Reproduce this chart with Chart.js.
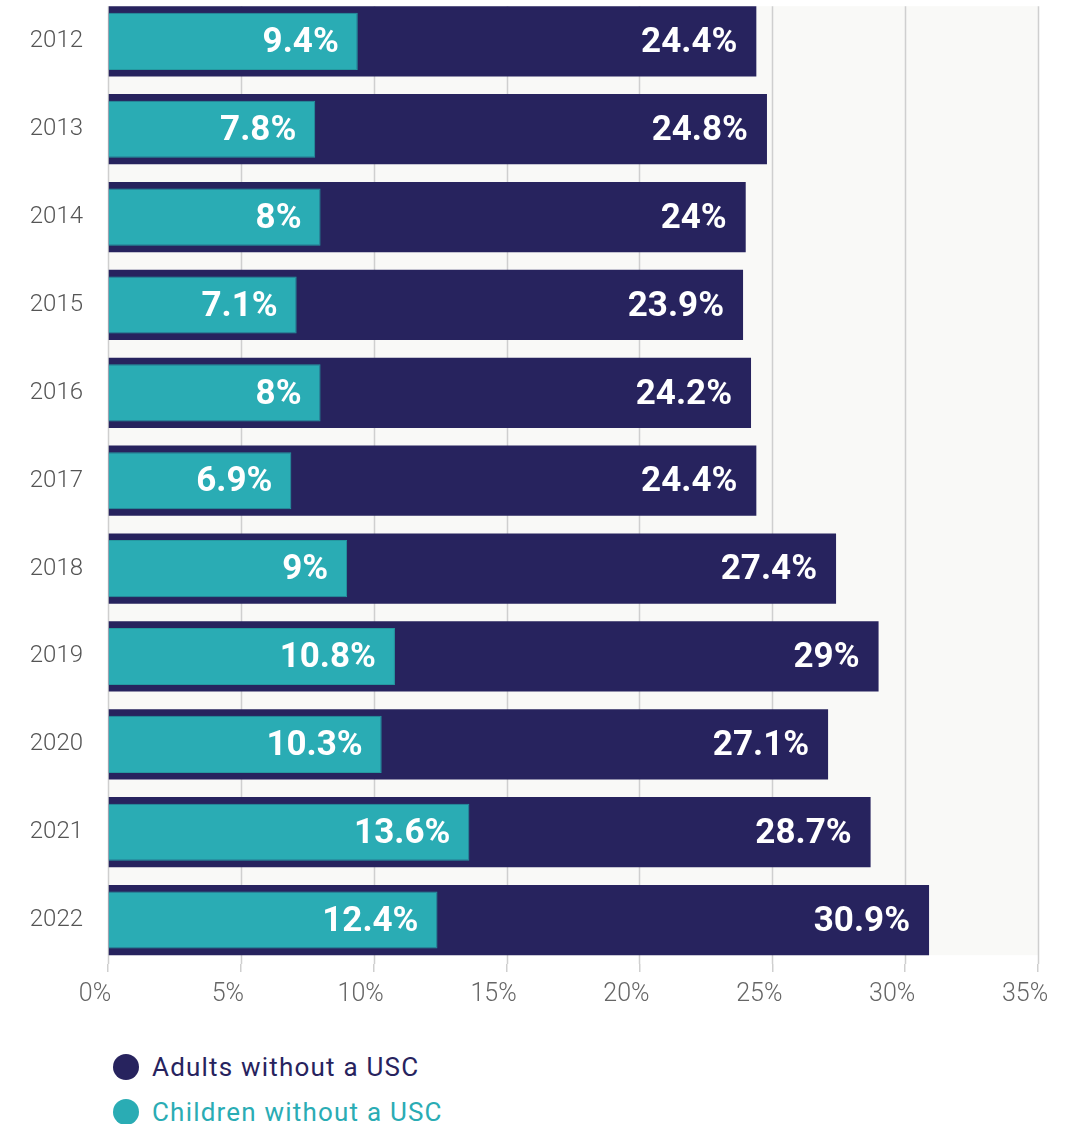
<!DOCTYPE html>
<html>
<head>
<meta charset="utf-8">
<script src="https://cdn.jsdelivr.net/npm/chart.js@4"></script>
<style>
  body { margin: 0; background: #fff; width: 1074px; height: 1124px; overflow: hidden; position: relative; }
  #chart { position: absolute; left: 0; top: -34px; }
  .legend { position: absolute; left: 113px; top: 1044px; font-family: Roboto, sans-serif; font-size: 26px; letter-spacing: 1.2px; }
  .legend .row { display: flex; align-items: center; height: 45px; }
  .legend .dot { width: 26px; height: 26px; border-radius: 50%; margin-right: 13px; }
</style>
</head>
<body>
<canvas id="chart" width="1074" height="1054"></canvas>
<div class="legend" id="legend"></div>
<script>
const years = ['2012', '2013', '2014', '2015', '2016', '2017', '2018', '2019', '2020', '2021', '2022'];
const adults = [24.4, 24.8, 24, 23.9, 24.2, 24.4, 27.4, 29, 27.1, 28.7, 30.9];
const children = [9.4, 7.8, 8, 7.1, 8, 6.9, 9, 10.8, 10.3, 13.6, 12.4];
const xTicks = [0, 5, 10, 15, 20, 25, 30, 35];

const NAVY = '#27235e';
const TEAL = '#2aacb4';

// light panel + vertical gridlines, spanning only the bar block
const panel = {
    id: 'panel',
    beforeDatasetsDraw(chart) {
        const ctx = chart.ctx;
        const bars = chart.getDatasetMeta(1).data;
        const first = bars[0], last = bars[bars.length - 1];
        const top = first.y - first.height / 2;
        const bottom = last.y + last.height / 2;
        const x = chart.scales.x;
        ctx.save();
        ctx.fillStyle = '#f9f9f7';
        ctx.fillRect(x.left, top, x.right - x.left, bottom - top);
        ctx.strokeStyle = '#cfcfcf';
        ctx.lineWidth = 1.5;
        xTicks.forEach(t => {
            const px = Math.round(x.getPixelForValue(t)) + 0.5;
            ctx.beginPath();
            ctx.moveTo(px, top);
            ctx.lineTo(px, chart.chartArea.bottom);
            ctx.stroke();
        });
        ctx.restore();
    }
};

// value labels inside the bar ends
const barLabels = {
    id: 'barLabels',
    afterDatasetsDraw(chart) {
        const ctx = chart.ctx;
        ctx.save();
        ctx.fillStyle = '#fff';
        ctx.font = 'bold 35px Roboto, sans-serif';
        ctx.textAlign = 'right';
        ctx.textBaseline = 'middle';
        chart.data.datasets.forEach((ds, i) => {
            chart.getDatasetMeta(i).data.forEach((bar, j) => {
                ctx.fillText(ds.data[j] + '%', bar.x - 19, bar.y + 2);
            });
        });
        ctx.restore();
    }
};

const chart = new Chart(document.getElementById('chart'), {
    type: 'bar',
    data: {
        labels: years,
        datasets: [
            { label: 'Children without a USC', data: children, backgroundColor: TEAL, borderColor: '#2598a0', borderWidth: 1, barPercentage: 0.65, categoryPercentage: 1, grouped: false, order: 0 },
            { label: 'Adults without a USC', data: adults, backgroundColor: NAVY, barPercentage: 0.8, categoryPercentage: 1, grouped: false, order: 1 }
        ]
    },
    options: {
        indexAxis: 'y',
        responsive: false,
        animation: false,
        layout: { padding: { top: 8, right: 36, left: 0, bottom: 0 } },
        plugins: { legend: { display: false }, tooltip: { enabled: false } },
        scales: {
            x: {
                min: 0, max: 35,
                afterBuildTicks: s => { s.ticks = xTicks.map(v => ({ value: v })); },
                afterFit: s => { s.height = 56; },
                grid: { drawOnChartArea: false, drawTicks: true, tickLength: 8, color: '#cfcfcf', lineWidth: 1.5 },
                border: { display: false },
                ticks: { callback: v => v + '%', color: '#666', font: { family: 'Roboto', size: 25, weight: 300 }, padding: 8, labelOffset: -13, maxRotation: 0 }
            },
            y: {
                afterFit: s => { s.width = 108; },
                grid: { display: false },
                border: { display: false },
                ticks: { color: '#555', font: { family: 'Roboto', size: 24, weight: 300 }, padding: 17 }
            }
        }
    },
    plugins: [panel, barLabels]
});

// legend, adults first
const legend = document.getElementById('legend');
[chart.data.datasets[1], chart.data.datasets[0]].forEach(ds => {
    const row = document.createElement('div');
    row.className = 'row';
    row.innerHTML = `<span class="dot" style="background:${ds.backgroundColor}"></span><span style="color:${ds.backgroundColor}">${ds.label}</span>`;
    legend.appendChild(row);
});
</script>
</body>
</html>
